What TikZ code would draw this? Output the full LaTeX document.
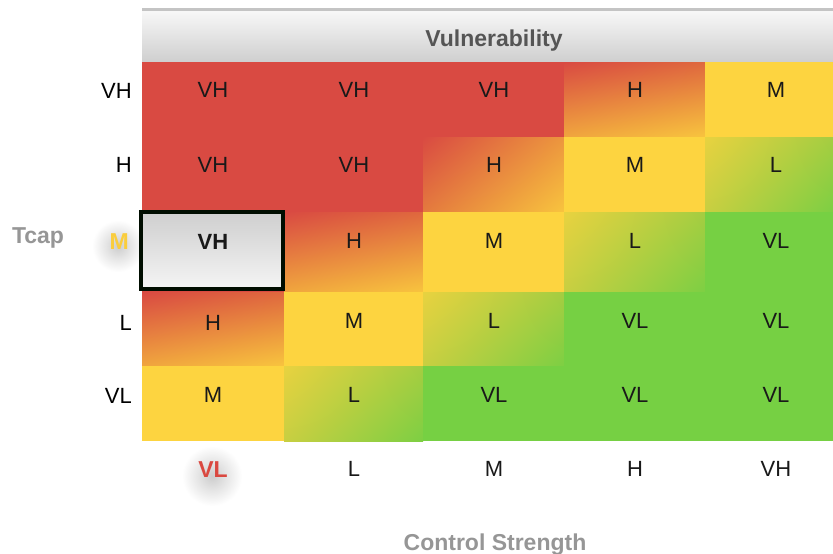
\documentclass[tikz,border=0pt]{standalone}
\usepackage{fontspec}
\setmainfont{Liberation Sans}
\usetikzlibrary{shadings}
\definecolor{cr}{RGB}{217,74,66}
\definecolor{cy}{RGB}{253,212,64}
\definecolor{cg}{RGB}{118,208,67}
\definecolor{hTR}{RGB}{223,104,62}
\definecolor{hBL}{RGB}{240,165,62}
\definecolor{hBR}{RGB}{248,196,62}
\definecolor{dTR}{RGB}{236,150,62}
\definecolor{dBL}{RGB}{228,122,62}
\definecolor{lUL}{RGB}{232,210,64}
\definecolor{lUR}{RGB}{165,205,65}
\definecolor{lLL}{RGB}{200,207,65}
\definecolor{lLR}{RGB}{125,207,67}
\definecolor{txt}{RGB}{25,25,25}
\definecolor{hdr}{RGB}{85,85,85}
\definecolor{axl}{RGB}{150,150,150}
\definecolor{selY}{RGB}{250,205,60}
\definecolor{selR}{RGB}{218,72,64}
\pgfdeclareradialshading{glow}{\pgfpoint{0bp}{0bp}}{color(0bp)=(black!20); color(12bp)=(black!10); color(25bp)=(white); color(50bp)=(white)}
\begin{document}
\begin{tikzpicture}[x=1pt,y=-1pt,
  lab/.style={font=\fontsize{22}{26}\selectfont, text=txt, inner sep=0pt, anchor=base},
  rowlab/.style={font=\fontsize{22}{26}\selectfont, text=black, inner sep=0pt, anchor=base east},
  axis/.style={font=\bfseries\fontsize{23}{27}\selectfont, inner sep=0pt, anchor=base},
  hgrad/.style={upper left=cr, upper right=hTR, lower left=hBL, lower right=hBR},
  hgradd/.style={upper left=cr, upper right=dTR, lower left=dBL, lower right=hBR},
  lgrad/.style={upper left=lUL, upper right=lUR, lower left=lLL, lower right=lLR}]
\useasboundingbox (0,0) rectangle (833,554);
\fill[white] (0,0) rectangle (833,554);
% glows
\shade[shading=glow] (118,246) circle (26);
\shade[shading=glow] (212,476) circle (30);
% header
\fill[black!23] (142,8) rectangle (833,11);
\shade[top color=black!3, bottom color=black!19] (142,11) rectangle (833,62);
% row 1
\fill[cr] (142,62) rectangle (564,137);
\shade[hgrad] (564,62) rectangle (705,137);
\fill[cy] (705,62) rectangle (833,137);
% row 2
\fill[cr] (142,137) rectangle (423,212);
\shade[hgradd] (423,137) rectangle (564,212);
\fill[cy] (564,137) rectangle (705,212);
\shade[lgrad] (705,137) rectangle (833,212);
% row 3
\fill[cr] (142,212) rectangle (284,292);
\shade[hgrad] (284,212) rectangle (423,292);
\fill[cy] (423,212) rectangle (564,292);
\shade[lgrad] (564,212) rectangle (705,292);
\fill[cg] (705,212) rectangle (833,292);
% row 4
\shade[hgrad] (142,292) rectangle (284,366);
\fill[cy] (284,292) rectangle (423,366);
\shade[lgrad] (423,292) rectangle (564,366);
\fill[cg] (564,292) rectangle (833,366);
% row 5
\fill[cy] (142,366) rectangle (284,441);
\shade[lgrad] (284,366) rectangle (423,441);
\fill[cg] (423,366) rectangle (833,441);
% selected cell
\shade[top color=black!19, bottom color=black!4] (141,212) rectangle (283,289);
\draw[line width=4pt, black!95!green] (141,212) rectangle (283,289);
% header and axis titles
\node[axis, text=hdr] (vuln) at (494,46) {Vulnerability};
\node[axis, text=axl] (tcap) at (38,243) {Tcap};
\node[axis, text=axl] (cs) at (495,550) {Control Strength};
% row labels
\node[rowlab] (rVH) at (132,98) {VH};
\node[rowlab] (rH) at (132,172) {H};
\node[axis, text=selY, anchor=base east] (rM) at (129,249) {M};
\node[rowlab] (rL) at (132,330) {L};
\node[rowlab] (rVL) at (132,403) {VL};
% column labels
\node[axis, text=selR] (cVL) at (213,477) {VL};
\node[lab] (cL) at (354,476) {L};
\node[lab] (cM) at (494,476) {M};
\node[lab] (cH) at (635,476) {H};
\node[lab] (cVH) at (776,476) {VH};
% cell texts row 1
\node[lab] (a11) at (213,97) {VH};
\node[lab] (a12) at (354,97) {VH};
\node[lab] (a13) at (494,97) {VH};
\node[lab] (a14) at (635,97) {H};
\node[lab] (a15) at (776,97) {M};
% row 2
\node[lab] (a21) at (213,172) {VH};
\node[lab] (a22) at (354,172) {VH};
\node[lab] (a23) at (494,172) {H};
\node[lab] (a24) at (635,172) {M};
\node[lab] (a25) at (776,172) {L};
% row 3
\node[axis, text=txt, font=\bfseries\fontsize{22}{26}\selectfont] (a31) at (213,249) {VH};
\node[lab] (a32) at (354,248) {H};
\node[lab] (a33) at (494,248) {M};
\node[lab] (a34) at (635,248) {L};
\node[lab] (a35) at (776,248) {VL};
% row 4
\node[lab] (a41) at (213,330) {H};
\node[lab] (a42) at (354,328) {M};
\node[lab] (a43) at (494,328) {L};
\node[lab] (a44) at (635,328) {VL};
\node[lab] (a45) at (776,328) {VL};
% row 5
\node[lab] (a51) at (213,402) {M};
\node[lab] (a52) at (354,402) {L};
\node[lab] (a53) at (494,402) {VL};
\node[lab] (a54) at (635,402) {VL};
\node[lab] (a55) at (776,402) {VL};
\end{tikzpicture}
\end{document}
